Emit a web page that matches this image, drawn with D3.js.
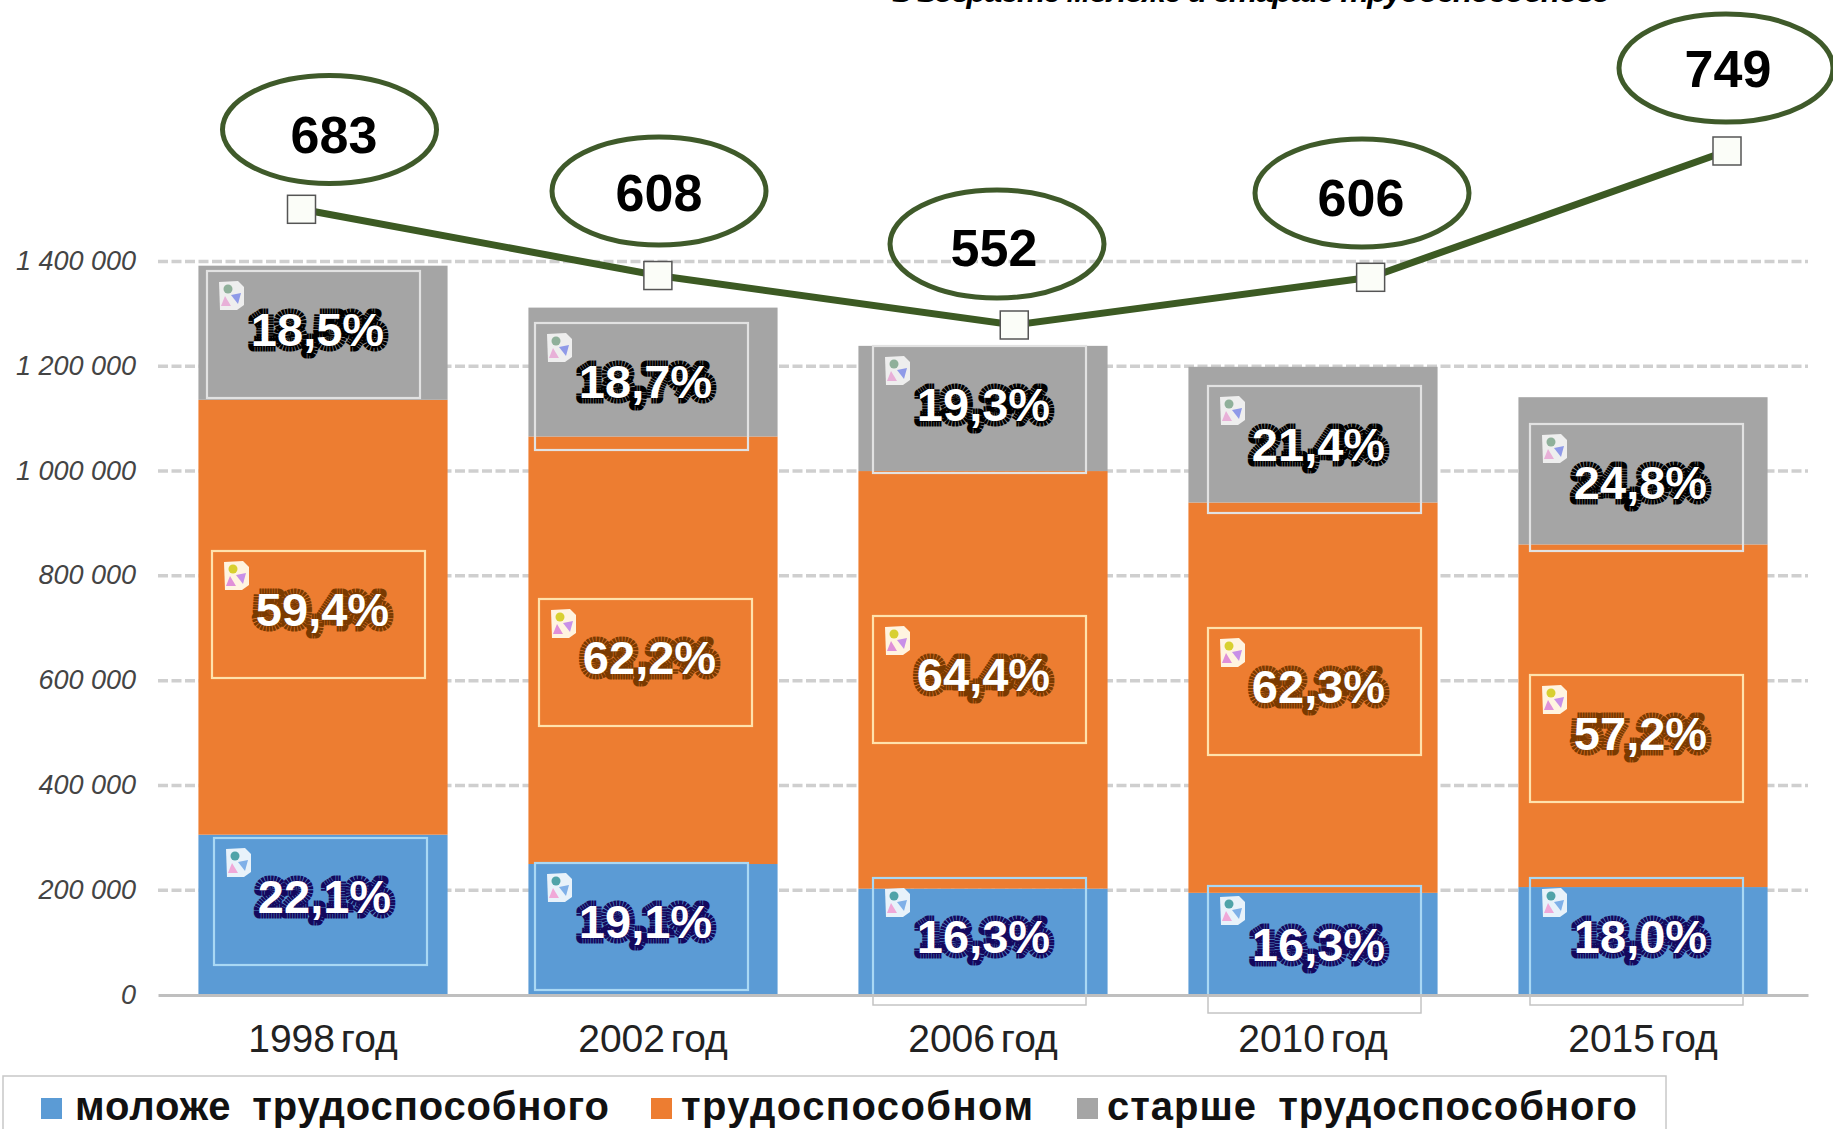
<!DOCTYPE html>
<html>
	<head>
		<meta charset="utf-8">
		<title>Население по возрасту</title>
		<script src="https://d3js.org/d3.v7.min.js"></script>
		<style>
			body {
				margin: 0;
				background: #fff;
				font-family: "Liberation Sans", Arial, sans-serif;
			}
			svg { display: block; }
			.grid line { stroke: #cfcfcf; stroke-width: 3.5; stroke-dasharray: 10 3.5; }
			.axis-y text { font-size: 27px; font-style: italic; fill: #444; }
			.axis-x text { font-size: 39px; fill: #222; word-spacing: -5px; }
			.pct { font-size: 47px; font-weight: bold; fill: #fff; paint-order: stroke fill; stroke-width: 11px; stroke-linejoin: round; text-anchor: middle; dominant-baseline: central; stroke-dasharray: 2 0.6; }
			.bubble-text { font-size: 52px; font-weight: bold; fill: #000; text-anchor: middle; dominant-baseline: central; }
			.legend-text { font-size: 40px; font-weight: bold; fill: #111; word-spacing: 9px; }
		</style>
	</head>

	<body>
		<svg id="chart" width="1833" height="1129"></svg>

		<script type="text/javascript">
			// data
			var categories = ['1998 год', '2002 год', '2006 год', '2010 год', '2015 год'];
			var seriesNames = ['моложе трудоспособного', 'трудоспособном', 'старше трудоспособного'];
			var younger = [306000, 250000, 203000, 195000, 206000];
			var working = [830000, 816000, 797000, 745000, 654000];
			var older = [256000, 246000, 239000, 259000, 281000];
			var youngerPct = ['22,1%', '19,1%', '16,3%', '16,3%', '18,0%'];
			var workingPct = ['59,4%', '62,2%', '64,4%', '62,3%', '57,2%'];
			var olderPct = ['18,5%', '18,7%', '19,3%', '21,4%', '24,8%'];
			var ratio = [683, 608, 552, 606, 749];
			var yTicks = [0, 200000, 400000, 600000, 800000, 1000000, 1200000, 1400000];
			var subtitle = 'в возрасте моложе и старше трудоспособного';

			// layout of the hand-placed callouts and label frames, kept apart from the data
			var colors = ['#5b9bd5', '#ed7d31', '#a5a5a5'];
			var haloColors = ['#14085e', '#7a3a00', '#000000'];
			var frameColors = ['#a9d8f4', '#ffe2ac', '#e2e2e2'];
			var frameW = 213, frameH = 127;
			var frames = [
				[[214, 838], [212, 551], [207, 271]],
				[[535, 863], [539, 599], [535, 323]],
				[[873, 878], [873, 616], [873, 346]],
				[[1208, 886], [1208, 628], [1208, 386]],
				[[1530, 878], [1530, 675], [1530, 424]]
			];
			var bubbles = [
				{cx: 329.5, cy: 129.5, tx: 334, ty: 135},
				{cx: 659, cy: 191, tx: 659, ty: 193},
				{cx: 997, cy: 244, tx: 994, ty: 248},
				{cx: 1362, cy: 193, tx: 1361, ty: 198},
				{cx: 1726, cy: 68, tx: 1728, ty: 69}
			];
			var legendX = [[41, 75], [651, 681], [1077, 1107]];
			var legendW = [534, 352, 530];

			var svg = d3.select('#chart');

			var x = d3.scaleBand()
				.domain(categories)
				.range([158, 1808])
				.paddingInner(0.245)
				.paddingOuter(0.1225);

			var y = d3.scaleLinear()
				.domain([0, 1400000])
				.range([995, 261.5]);

			// the ratio line sits on its own wider, independent scales
			var lineX = d3.scalePoint()
				.domain(categories)
				.range([301.5, 1727]);

			var lineY = d3.scaleLinear()
				.domain([552, 749])
				.range([325, 151]);

			var rows = categories.map(function(c, i) {
				return {cat: c, younger: younger[i], working: working[i], older: older[i]};
			});
			var stacked = d3.stack().keys(['younger', 'working', 'older'])(rows);

			// subtitle cut off by the top edge
			svg.append('text')
				.attr('x', 892)
				.attr('y', 2)
				.attr('textLength', 719)
				.attr('font-size', 32)
				.attr('font-weight', 'bold')
				.attr('font-style', 'italic')
				.text(subtitle);

			// gridlines
			svg.append('g')
				.attr('class', 'grid')
				.selectAll('line')
				.data(yTicks.slice(1))
				.enter()
				.append('line')
				.attr('x1', 158)
				.attr('x2', 1808)
				.attr('y1', function(d) { return y(d); })
				.attr('y2', function(d) { return y(d); });

			// bars
			svg.append('g')
				.selectAll('g')
				.data(stacked)
				.enter()
				.append('g')
				.attr('fill', function(d, i) { return colors[i]; })
				.selectAll('rect')
				.data(function(d) { return d; })
				.enter()
				.append('rect')
				.attr('x', function(d) { return x(d.data.cat); })
				.attr('width', x.bandwidth())
				.attr('y', function(d) { return y(d[1]); })
				.attr('height', function(d) { return y(d[0]) - y(d[1]); });

			// axes
			var fmt = d3.formatLocale({decimal: ',', thousands: ' ', grouping: [3], currency: ['', '']}).format(',d');

			var axisY = svg.append('g')
				.attr('class', 'axis-y')
				.attr('transform', 'translate(158,0)')
				.call(d3.axisLeft(y).tickValues(yTicks).tickSize(0).tickPadding(22).tickFormat(fmt));
			axisY.select('.domain').remove();
			axisY.selectAll('text').attr('dy', '0.3em');

			var axisX = svg.append('g')
				.attr('class', 'axis-x')
				.attr('transform', 'translate(0,995)')
				.call(d3.axisBottom(x).tickSize(0).tickPadding(29));
			axisX.select('.domain')
				.attr('stroke', '#bfbfbf')
				.attr('stroke-width', 3);

			// label frames, icons and percentages
			var defs = svg.append('defs');
			defs.append('clipPath').attr('id', 'above-base')
				.append('rect').attr('x', 0).attr('y', 0).attr('width', 1833).attr('height', 994);

			var pctBySeries = [youngerPct, workingPct, olderPct];
			var iconTints = [
				['#e8f2fa', '#4fa3a8', '#f0a8d8', '#7fb0e8'],
				['#fff4e0', '#d8d030', '#e090d8', '#c890e8'],
				['#eeeeee', '#8fb09a', '#e8b0d8', '#8f9ae8']
			];

			function drawIcon(g, px, py, tint) {
				var icon = g.append('g').attr('transform', 'translate(' + px + ',' + py + ')');
				icon.append('path')
					.attr('d', 'M0,1 L19,0 L25,6 L25,24 L18,29 L1,29 Z')
					.attr('fill', tint[0]);
				icon.append('circle').attr('cx', 9).attr('cy', 8).attr('r', 4.5).attr('fill', tint[1]);
				icon.append('path').attr('d', 'M2,25 L6,15 L12,25 Z').attr('fill', tint[2]);
				icon.append('path').attr('d', 'M12,14 L22,12 L19,23 Z').attr('fill', tint[3]);
			}

			var labels = svg.append('g');
			categories.forEach(function(c, i) {
				seriesNames.forEach(function(s, j) {
					var f = frames[i][j];
					// outside the bars the frame only shows as a thin grey outline
					labels.append('rect')
						.attr('x', f[0]).attr('y', f[1])
						.attr('width', frameW).attr('height', frameH)
						.attr('fill', 'none')
						.attr('stroke', '#c4c4c4')
						.attr('stroke-width', 1.5);
					labels.append('rect')
						.attr('x', f[0]).attr('y', f[1])
						.attr('width', frameW).attr('height', frameH)
						.attr('fill', 'none')
						.attr('clip-path', 'url(#above-base)')
						.attr('stroke', frameColors[j])
						.attr('stroke-width', 2.2);
					drawIcon(labels, f[0] + 12, f[1] + 10, iconTints[j]);
					labels.append('text')
						.attr('class', 'pct')
						.attr('x', f[0] + frameW / 2 + 4)
						.attr('y', f[1] + frameH / 2 - 5)
						.attr('stroke', haloColors[j])
						.text(pctBySeries[j][i]);
				});
			});

			// ratio line with square markers
			var line = d3.line()
				.x(function(d, i) { return lineX(categories[i]); })
				.y(function(d) { return lineY(d); });

			svg.append('path')
				.datum(ratio)
				.attr('d', line)
				.attr('fill', 'none')
				.attr('stroke', '#3c5a23')
				.attr('stroke-width', 7);

			svg.append('g')
				.selectAll('rect')
				.data(ratio)
				.enter()
				.append('rect')
				.attr('x', function(d, i) { return lineX(categories[i]) - 14; })
				.attr('y', function(d) { return lineY(d) - 14; })
				.attr('width', 28)
				.attr('height', 28)
				.attr('fill', '#fbfdf8')
				.attr('stroke', '#555')
				.attr('stroke-width', 1.5);

			// value bubbles
			var bubble = svg.append('g')
				.selectAll('g')
				.data(ratio)
				.enter()
				.append('g');

			bubble.append('ellipse')
				.attr('cx', function(d, i) { return bubbles[i].cx; })
				.attr('cy', function(d, i) { return bubbles[i].cy; })
				.attr('rx', 107)
				.attr('ry', 54)
				.attr('fill', 'none')
				.attr('stroke', '#3f5a2a')
				.attr('stroke-width', 5);

			bubble.append('text')
				.attr('class', 'bubble-text')
				.attr('x', function(d, i) { return bubbles[i].tx; })
				.attr('y', function(d, i) { return bubbles[i].ty; })
				.text(function(d) { return d; });

			// legend, its box runs off the bottom edge
			svg.append('rect')
				.attr('x', 3)
				.attr('y', 1076)
				.attr('width', 1663)
				.attr('height', 70)
				.attr('fill', '#fff')
				.attr('stroke', '#c8c8c8')
				.attr('stroke-width', 1.5);

			var legend = svg.append('g')
				.selectAll('g')
				.data(seriesNames)
				.enter()
				.append('g');

			legend.append('rect')
				.attr('x', function(d, i) { return legendX[i][0]; })
				.attr('y', 1098)
				.attr('width', 21)
				.attr('height', 21)
				.attr('fill', function(d, i) { return colors[i]; });

			legend.append('text')
				.attr('class', 'legend-text')
				.attr('x', function(d, i) { return legendX[i][1]; })
				.attr('y', 1120)
				.attr('textLength', function(d, i) { return legendW[i]; })
				.text(function(d) { return d; });
		</script>
	</body>
</html>
